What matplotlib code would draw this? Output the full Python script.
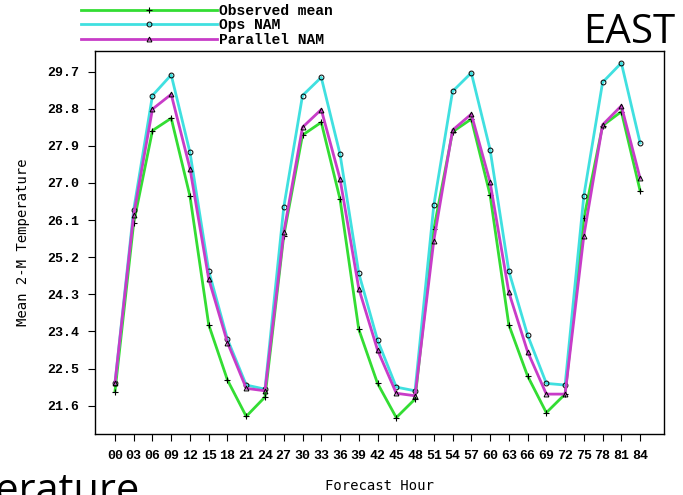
import numpy as np
import matplotlib
matplotlib.use("Agg")
import matplotlib.pyplot as plt

# forecast hours 00..84 every 3 h
hours = list(range(0, 87, 3))
hour_labels = ["%02d" % h for h in hours]

observed_mean = [21.94, 26.03, 28.27, 28.57, 26.68, 23.56, 22.22, 21.34, 21.81, 25.72,
                 28.16, 28.47, 26.61, 23.45, 22.14, 21.31, 21.76, 25.88, 28.24, 28.55,
                 26.71, 23.56, 22.32, 21.43, 21.88, 26.14, 28.39, 28.73, 26.81]
ops_nam = [22.14, 26.35, 29.12, 29.62, 27.74, 24.87, 23.21, 22.10, 22.00, 26.41,
           29.12, 29.56, 27.70, 24.81, 23.19, 22.05, 21.96, 26.46, 29.22, 29.67,
           27.81, 24.86, 23.31, 22.14, 22.10, 26.69, 29.44, 29.91, 27.97]
parallel_nam = [22.14, 26.23, 28.79, 29.15, 27.35, 24.67, 23.13, 22.02, 21.96, 25.80,
                28.35, 28.78, 27.10, 24.44, 22.95, 21.90, 21.84, 25.60, 28.28, 28.67,
                27.02, 24.35, 22.91, 21.88, 21.88, 25.72, 28.41, 28.87, 27.11]

y_ticks = [21.6, 22.5, 23.4, 24.3, 25.2, 26.1, 27.0, 27.9, 28.8, 29.7]

mono = "DejaVu Sans Mono"
courier = "Liberation Mono"

fig = plt.figure(figsize=(6.83, 4.95), dpi=100)
ax = fig.add_axes([0.139, 0.123, 0.833, 0.774])

ax.plot(hours, observed_mean, color="#33dd33", lw=2.0, marker="+", ms=4,
        mec="black", mew=0.8, label="Observed mean")
ax.plot(hours, ops_nam, color="#40e0e0", lw=2.0, marker="o", ms=3.5,
        mfc="none", mec="black", mew=0.7, label="Ops NAM")
ax.plot(hours, parallel_nam, color="#c83cc8", lw=2.0, marker="^", ms=3.5,
        mfc="none", mec="black", mew=0.7, label="Parallel NAM")

ax.set_xlim(-3.2, 87.8)
ax.set_ylim(20.91, 30.2)
ax.set_xticks(hours)
ax.set_xticklabels(hour_labels, fontfamily=courier, fontweight="bold", fontsize=9.5)
ax.set_yticks(y_ticks)
ax.set_yticklabels(["%.1f" % v for v in y_ticks], fontfamily=courier,
                   fontweight="bold", fontsize=9.5)
ax.tick_params(direction="out", length=5, width=0.8, pad=6.5)
for s in ax.spines.values():
    s.set_linewidth(1.0)

ax.set_xlabel("Forecast Hour", fontfamily=mono, fontsize=10, labelpad=12)
ax.set_ylabel("Mean 2-M Temperature", fontfamily=mono, fontsize=10, labelpad=12)

ax.legend(loc="upper left", bbox_to_anchor=(81 / 683, 0.992),
          bbox_transform=fig.transFigure, frameon=False, ncol=1,
          handlelength=9.3, handletextpad=0.15, labelspacing=0.03,
          borderpad=0.0, borderaxespad=0.0, numpoints=1,
          prop={"family": courier, "weight": "bold", "size": 10.5})

fig.text(675 / 683, 1 - 43 / 495, "EAST", ha="right", va="baseline",
         fontfamily="Open Sans", fontsize=29)
fig.text(140 / 683, -0.016, "Temperature", ha="right", va="baseline",
         fontfamily="Open Sans", fontsize=30)

fig.savefig("out.png", dpi=100)
